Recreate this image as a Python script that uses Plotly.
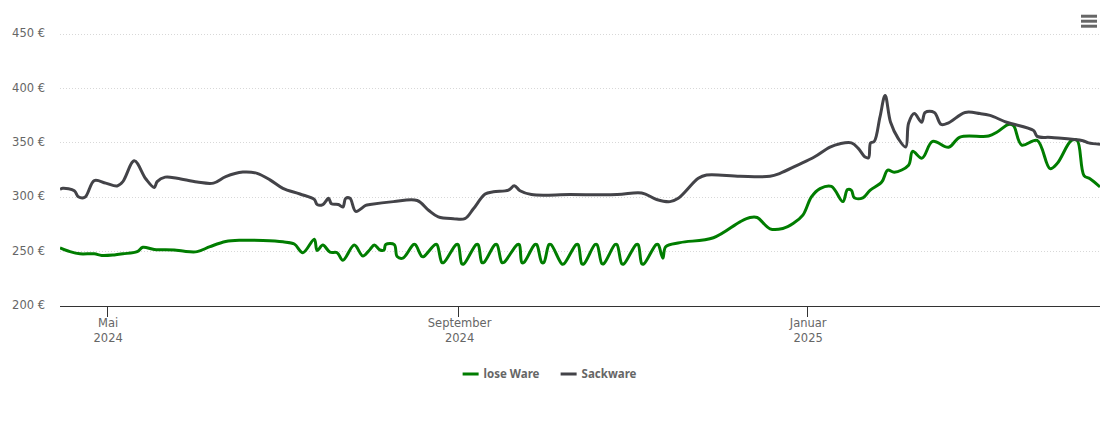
import pandas as pd
import plotly.graph_objects as go

# days counted from the left edge of the chart, values in euro
start = pd.Timestamp('2024-04-14 12:00')

lose_days = [0, 3.5, 7, 12, 14.6, 19, 22, 27, 29, 33, 40, 43, 48, 52.5, 58, 63, 71, 78, 82,
             85, 89, 90, 92, 94.5, 97, 99, 103, 106, 108.5, 110, 112, 113.4, 114, 117, 118, 120,
             123.65, 124.35, 126.65, 127.35, 131.25, 131.95, 133.65, 134.35, 138.65, 139.35, 140.65, 141.35,
             145.65, 146.35, 147.65, 148.35, 152.25, 152.95, 154.65, 155.35, 160.05, 160.75, 161.65, 162.35,
             166.15, 166.85, 168.65, 169.35, 171.15, 171.85, 175.65, 176.35, 180.65, 181.35, 182.65, 183.35,
             187.25, 187.95, 189.65, 190.35, 194.25, 194.95, 196.65, 197.35, 201.65, 202.35, 203.65, 204.35,
             208.65, 209.35, 211, 212, 217, 228.7,
             238, 241.5, 244, 248.5, 253, 256.7, 260, 263, 266, 270, 274, 275.6, 277, 278, 281,
             283.5, 287.6, 289.7, 292, 297, 298.4, 301.7, 305.4, 311, 315, 325, 328, 332, 333.7,
             336.6, 342, 346.5, 349, 354, 356, 358.4, 360.5, 364]
lose_ware = [253.4, 250, 248, 248, 246.5, 247, 248, 250, 254, 252, 251.5, 250.5, 250, 254.6, 259.3, 260.5, 260.2, 259, 257,
             249, 261.4, 251, 256, 249.5, 249, 242, 256, 246, 252, 256, 251.5, 251.5, 256.5, 256.5, 245.5, 244,
             256.5, 256.5, 245.5, 245.5, 256.5, 256.5, 240, 240, 256.5, 256.5, 238.7, 238.7,
             256.5, 256.5, 240, 240, 256.5, 256.5, 240, 240, 256.5, 256.5, 240, 240,
             256.5, 256.5, 240, 240, 256.5, 256.5, 238.7, 238.7, 256.5, 256.5, 238.7, 238.7,
             256.5, 256.5, 239, 239, 256.5, 256.5, 238.7, 238.7, 256.5, 256.5, 238.7, 238.7,
             256.5, 256.5, 244, 254.5, 258.3, 262.8,
             277.4, 281.4, 281.4, 271, 271.3, 276, 283.5, 300.3, 308, 310, 296, 307, 306.4, 299.5, 299.5,
             306.4, 314, 325, 323, 329.5, 342.2, 336, 351.4, 346, 355.4, 356.3, 360, 367, 366,
             348, 352.3, 326.3, 331, 352.3, 352.3, 320, 317, 309.5]

sack_days = [0, 1, 5, 6.4, 8.7, 12, 16, 20, 22, 26, 30, 33, 34, 36.8, 41, 48, 53.7, 58, 64, 69, 73.5, 78, 84,
             89, 90, 92, 94, 95, 97.4, 99, 100, 101.5, 103.5, 107,
             108.5, 116.7, 125, 129, 132.4, 137.7, 141.7, 144.7, 148.8, 151.7, 157, 159, 161, 165, 178.5, 195,
             203.6, 208.8, 213.5, 216.4, 223.4, 226.3,
             238, 248.5, 252, 258, 264, 269.5, 273, 277, 279.4, 281.8, 283, 283.7, 285, 287, 288.8, 290.7, 293.4,
             296, 297, 299, 301.6, 302.8, 306, 308.4, 311,
             316.8, 322, 325.5, 331.3, 340.7, 342, 347, 358, 360, 364]
sackware = [307.3, 308.2, 306, 300.5, 300, 315.4, 313, 310.4, 314.4, 333.5, 317, 309, 314.4, 318.5, 317.5, 314, 313, 319, 323.2, 322, 316, 308.2, 303,
            298, 293.3, 293.3, 299, 294, 293.3, 291, 299, 299, 287, 292.5,
            293.3, 296, 297, 288.1, 282, 280.3, 280.3, 289.4, 303, 305, 306.6, 310.6, 306, 302.5, 302.5, 302.5,
            304, 298, 296, 299, 317.4, 320.5,
            319.3, 319.3, 322, 329.4, 337, 346.2, 349.3, 350, 345, 337, 336.4, 350, 351.4, 374, 393.6, 369, 354,
            346.2, 368, 377, 369, 378, 378, 367, 368.5,
            378, 377, 375.3, 369, 361.5, 356, 355, 352, 350, 348.8]

y_ticks = [200, 250, 300, 350, 400, 450]
y_labels = ['200 €', '250 €', '300 €', '350 €', '400 €', '450 €']
x_ticks = ['2024-05-01', '2024-09-01', '2025-01-01']
x_labels = ['Mai<br>2024', 'September<br>2024', 'Januar<br>2025']


def to_dates(days):
    return [start + pd.Timedelta(days=d) for d in days]


fig = go.Figure()
fig.add_trace(go.Scatter(x=to_dates(lose_days), y=lose_ware, name='lose Ware', mode='lines',
                         line=dict(color='#007d00', width=3, shape='spline', smoothing=1)))
fig.add_trace(go.Scatter(x=to_dates(sack_days), y=sackware, name='Sackware', mode='lines',
                         line=dict(color='#434348', width=3, shape='spline', smoothing=1)))

font = 'DejaVu Sans'
fig.update_xaxes(range=[start, start + pd.Timedelta(days=364)],
                 tickvals=x_ticks, ticktext=x_labels, ticks='outside', ticklen=10, tickwidth=1,
                 ticklabelstandoff=-4, ticklabelshift=1, tickcolor='#333333', showline=True, linecolor='#333333', linewidth=1,
                 showgrid=False, zeroline=False, tickfont=dict(family=font, size=11.5, color='#666666'))
fig.update_yaxes(range=[200, 452], tickvals=y_ticks, ticktext=y_labels, ticks='',
                 ticklabelstandoff=14, ticklabelshift=-1, griddash='1px,2px', gridcolor='#d8d8d8', gridwidth=1,
                 zeroline=False, showline=False, tickfont=dict(family=font, size=11.5, color='#666666'))

# menu icon in the top right corner
shapes = []
for top in [15, 20, 25]:
    shapes.append(dict(type='rect', xref='paper', yref='paper', line_width=0, fillcolor='#666666',
                       x0=(1081 - 60) / 1040, x1=(1097 - 60) / 1040,
                       y0=(306.5 - top - 3) / 274.2, y1=(306.5 - top) / 274.2))

fig.update_layout(width=1110, height=423, autosize=False,
                  margin=dict(l=60, r=10, t=32.3, b=116.5),
                  plot_bgcolor='white', paper_bgcolor='white', shapes=shapes,
                  legend=dict(orientation='h', x=0.4631, xanchor='center', y=-0.248, yanchor='middle',
                              entrywidth=53, entrywidthmode='pixels',
                              font=dict(family='Noto Sans', size=11.5, color='#666666', weight='bold')))

# legend swatches are shorter in the original
css = ("var s=document.createElement('style');"
       "s.textContent='.legendlines path{stroke-dasharray:16 100 !important;stroke-dashoffset:-14 !important}';"
       "document.head.appendChild(s);"
       "document.body.style.margin='0';document.body.style.overflow='hidden';")
fig.write_html("out.html", config=dict(displayModeBar=False), post_script=css)
